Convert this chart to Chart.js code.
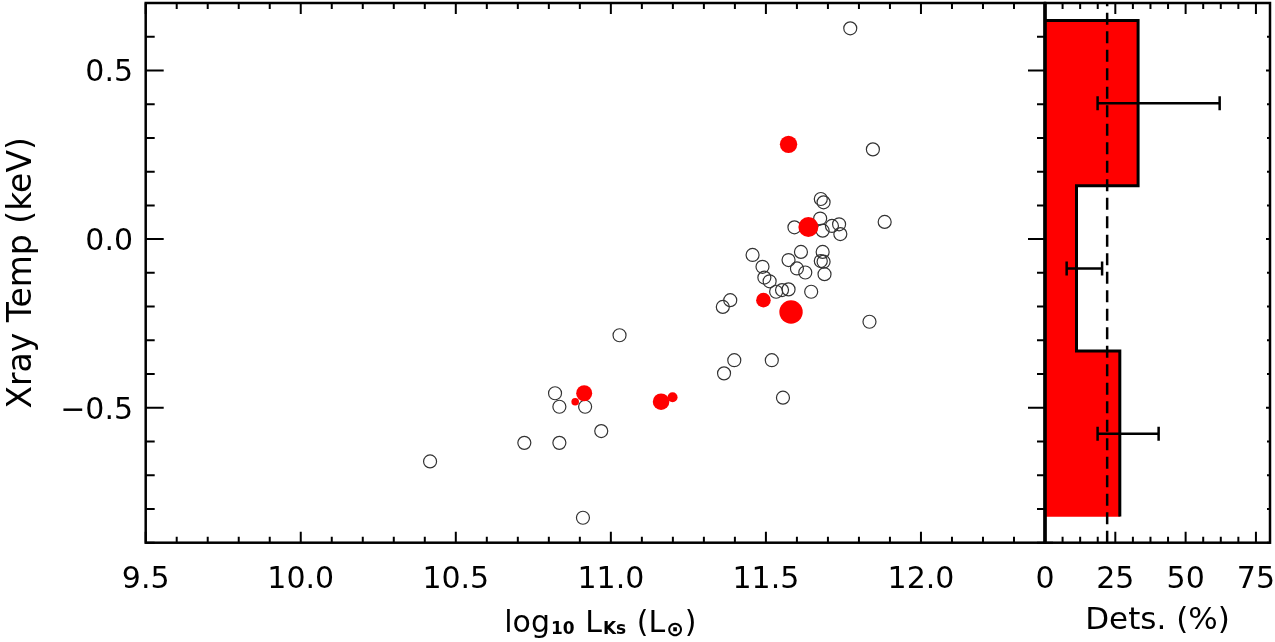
<!DOCTYPE html>
<html>
<head>
<meta charset="utf-8">
<script src="https://cdn.jsdelivr.net/npm/chart.js@4.4.1/dist/chart.umd.min.js"></script>
<style>
  html, body { margin: 0; padding: 0; background: #fff; }
  .panel { position: absolute; left: 0; top: 0; width: 1275px; height: 642px; }
</style>
</head>
<body>
<div class="panel"><canvas id="lumChart"></canvas></div>
<div class="panel"><canvas id="detChart"></canvas></div>
<script>
// =============================
// DATA
// =============================
// non-detections (open circles)
const openLogL = [11.772, 11.845, 11.883, 11.677, 11.686, 11.675, 11.592, 11.683, 11.713, 11.736,
                  11.740, 11.457, 11.613, 11.683, 11.489, 11.573, 11.677, 11.686, 11.495, 11.512,
                  11.600, 11.627, 11.689, 11.533, 11.552, 11.573, 11.646, 11.361, 11.385, 11.834,
                  11.028, 11.398, 11.519, 11.365, 11.555, 10.820, 10.834, 10.917, 10.969, 10.721,
                  10.834, 10.417, 10.910];
const openTemp = [0.625, 0.266, 0.051, 0.119, 0.109, 0.061, 0.035, 0.025, 0.039, 0.044,
                  0.015, -0.047, -0.038, -0.038, -0.082, -0.062, -0.065, -0.067, -0.114, -0.125,
                  -0.087, -0.099, -0.104, -0.156, -0.151, -0.149, -0.156, -0.201, -0.181, -0.245,
                  -0.285, -0.359, -0.359, -0.398, -0.470, -0.457, -0.497, -0.497, -0.569, -0.604,
                  -0.604, -0.659, -0.826];

// detections (filled red, symbol size scales with signal)
const redLogL = [11.573, 11.637, 11.492, 11.581, 10.914, 10.885, 11.162, 11.199];
const redTemp = [0.281, 0.036, -0.181, -0.216, -0.457, -0.482, -0.482, -0.469];
const redSize = [8.7, 10, 7.3, 11.7, 8, 3.8, 8.3, 5];

// detection fraction histogram (bins bottom -> top)
const binEdges = [-0.822, -0.332, 0.158, 0.648];
const detPct = [26.6, 11.2, 33.1];
const detErrLo = [18.7, 7.7, 18.7];
const detErrHi = [40.4, 20.3, 62.1];
const detMean = 22.1;

// axes
const xRange = [9.5, 12.4];
const yRange = [-0.9, 0.7];
const detRange = [0, 80];
const xTicks = [9.5, 10.0, 10.5, 11.0, 11.5, 12.0];
const yTicks = [-0.5, 0.0, 0.5];
const detTicks = [0, 25, 50, 75];

// =============================
// HELPERS
// =============================
Chart.defaults.font.family = '"DejaVu Sans", sans-serif';
Chart.defaults.color = '#000';

function stepVals(min, max, step) {
  const out = [];
  const n = Math.floor((max - min) / step + 1e-6);
  for (let i = 0; i <= n; i++) out.push(+(min + i * step).toFixed(6));
  return out;
}
const isMajor = (v, majors) => majors.some(m => Math.abs(m - v) < 1e-6);
const fmtY = v => (v < 0 ? '\u2212' : '') + Math.abs(v).toFixed(1);
const noPad = s => { s.paddingLeft = 0; s.paddingRight = 0; s.paddingTop = 0; s.paddingBottom = 0; };

// IDL style frame: box + inward ticks
const idlAxes = {
  id: 'idlAxes',
  afterDraw(chart, args, o) {
    const { ctx, chartArea: a, scales: { x, y } } = chart;
    ctx.save();
    ctx.strokeStyle = '#000';
    ctx.lineWidth = 2;
    ctx.beginPath();
    o.xVals.forEach(v => {
      const px = x.getPixelForValue(v);
      const len = isMajor(v, o.xMajors) ? o.xLen[0] : o.xLen[1];
      ctx.moveTo(px, a.bottom); ctx.lineTo(px, a.bottom - len);
      ctx.moveTo(px, a.top); ctx.lineTo(px, a.top + len);
    });
    o.yVals.forEach(v => {
      const py = y.getPixelForValue(v);
      const k = isMajor(v, o.yMajors) ? 0 : 1;
      if (o.leftLen[k]) { ctx.moveTo(a.left, py); ctx.lineTo(a.left + o.leftLen[k], py); }
      ctx.moveTo(a.right + o.rightOut[k], py); ctx.lineTo(a.right - o.rightLen[k], py);
    });
    ctx.stroke();
    ctx.lineWidth = 2.5;
    ctx.strokeRect(a.left, a.top, a.right - a.left, a.bottom - a.top);
    if (o.leftWidth) {
      ctx.lineWidth = o.leftWidth;
      ctx.beginPath();
      ctx.moveTo(a.left, a.top); ctx.lineTo(a.left, a.bottom);
      ctx.stroke();
    }
    ctx.restore();
  }
};

// x title with subscripts: log10 LKs (L⊙)
const lumTitle = {
  id: 'lumTitle',
  afterDraw(chart) {
    const { ctx, chartArea: a } = chart;
    const big = '30px "DejaVu Sans"';
    const sub = 'bold 17px "DejaVu Sans"';
    const sun = 'bold 21px "DejaVu Sans"';
    const parts = [['log', big, 0], ['10', sub, 2], [' L', big, 0], ['Ks', sub, 2],
                   [' (L', big, 0], ['\u2299', sun, 4], [')', big, 0]];
    ctx.save();
    ctx.fillStyle = '#000';
    ctx.textBaseline = 'alphabetic';
    let total = 0;
    parts.forEach(p => { ctx.font = p[1]; total += ctx.measureText(p[0]).width + (p[1] === big ? 0 : 2); });
    let xPos = (a.left + a.right) / 2 + 5 - total / 2;
    const base = a.bottom + 89;
    parts.forEach(p => {
      ctx.font = p[1];
      if (p[1] !== big) xPos += 1;
      ctx.fillText(p[0], xPos, base + p[2]);
      xPos += ctx.measureText(p[0]).width + (p[1] === big ? 0 : 1);
    });
    ctx.restore();
  }
};

const AXIS_H = 99.3;
const Y_AXIS_W = 145.7;
const tickFont = { size: 30 };

// =============================
// LEFT PANEL: SCATTER
// =============================
const lumChart = new Chart(document.getElementById('lumChart'), {
  type: 'scatter',
  data: {
    datasets: [
      {
        label: 'detected',
        data: redLogL.map((v, i) => ({ x: v, y: redTemp[i] })),
        pointRadius: redSize,
        pointBackgroundColor: '#ff0000',
        pointBorderWidth: 0,
        pointHoverRadius: redSize
      },
      {
        label: 'undetected',
        data: openLogL.map((v, i) => ({ x: v, y: openTemp[i] })),
        pointRadius: 6.5,
        pointBackgroundColor: 'rgba(0,0,0,0)',
        pointBorderColor: '#333',
        pointBorderWidth: 1.2
      }
    ]
  },
  options: {
    responsive: true,
    maintainAspectRatio: false,
    animation: false,
    layout: { autoPadding: false, padding: { left: 0, top: 3, right: 1275 - 1045, bottom: 0 } },
    plugins: {
      legend: { display: false },
      tooltip: { enabled: false },
      idlAxes: {
        xVals: stepVals(xRange[0], xRange[1], 0.1), xMajors: xTicks, xLen: [11, 6],
        yVals: stepVals(yRange[0], yRange[1], 0.1), yMajors: yTicks,
        leftLen: [18, 9], rightLen: [17, 8], rightOut: [17, 8]
      }
    },
    scales: {
      x: {
        type: 'linear', min: xRange[0], max: xRange[1], offset: false,
        grid: { display: false, drawTicks: false, offset: false }, border: { display: false },
        afterBuildTicks: s => { s.ticks = xTicks.map(v => ({ value: v })); },
        afterFit: s => { s.height = AXIS_H; noPad(s); },
        ticks: { font: tickFont, padding: 20, maxRotation: 0, autoSkip: false, callback: v => v.toFixed(1) }
      },
      y: {
        type: 'linear', min: yRange[0], max: yRange[1], offset: false,
        grid: { display: false, drawTicks: false, offset: false }, border: { display: false },
        afterBuildTicks: s => { s.ticks = yTicks.map(v => ({ value: v })); },
        afterFit: s => { s.width = Y_AXIS_W; noPad(s); },
        ticks: { font: tickFont, padding: 12.7, labelOffset: 3, autoSkip: false, callback: fmtY },
        title: { display: true, text: 'Xray Temp (keV)', font: { size: 33 }, padding: { top: 2.4, bottom: 0 } }
      }
    }
  },
  plugins: [idlAxes, lumTitle]
});

// =============================
// RIGHT PANEL: DETECTION FRACTION
// =============================
const binCentres = detPct.map((v, i) => (binEdges[i] + binEdges[i + 1]) / 2);

const outline = [{ x: 0, y: binEdges[binEdges.length - 1] }];
for (let i = detPct.length - 1; i >= 0; i--) {
  outline.push({ x: detPct[i], y: binEdges[i + 1] });
  outline.push({ x: detPct[i], y: binEdges[i] });
}

const errSets = detPct.map((v, i) => ({
  type: 'scatter',
  order: 1,
  data: [{ x: detErrLo[i], y: binCentres[i] }, { x: detErrHi[i], y: binCentres[i] }],
  showLine: true,
  borderColor: '#000',
  borderWidth: 2.5,
  pointStyle: 'line',
  pointRotation: 90,
  pointRadius: 7,
  pointBorderWidth: 2.5,
  pointBorderColor: '#000'
}));

const detChart = new Chart(document.getElementById('detChart'), {
  type: 'bar',
  data: {
    datasets: [
      ...errSets,
      {
        type: 'scatter',
        order: 2,
        data: [{ x: detMean, y: yRange[0] }, { x: detMean, y: yRange[1] }],
        showLine: true,
        borderColor: '#000',
        borderWidth: 2.5,
        borderDash: [12, 6.5],
        pointRadius: 0
      },
      {
        type: 'scatter',
        order: 3,
        data: outline,
        showLine: true,
        borderColor: '#000',
        borderWidth: 3,
        pointRadius: 0
      },
      {
        type: 'bar',
        order: 4,
        indexAxis: 'y',
        data: detPct.map((v, i) => ({ x: v, y: binCentres[i] })),
        backgroundColor: '#ff0000',
        borderWidth: 0,
        barPercentage: 1,
        categoryPercentage: 1
      }
    ]
  },
  options: {
    responsive: true,
    maintainAspectRatio: false,
    animation: false,
    layout: { autoPadding: false, padding: { left: 1045, top: 3, right: 5, bottom: 0 } },
    plugins: {
      legend: { display: false },
      tooltip: { enabled: false },
      idlAxes: {
        xVals: stepVals(detRange[0], detRange[1], 6.25), xMajors: detTicks, xLen: [11, 6],
        yVals: stepVals(yRange[0], yRange[1], 0.1), yMajors: yTicks,
        leftLen: [0, 0], rightLen: [4, 3], rightOut: [0, 0], leftWidth: 3.5
      }
    },
    scales: {
      x: {
        type: 'linear', min: detRange[0], max: detRange[1], offset: false,
        grid: { display: false, drawTicks: false, offset: false }, border: { display: false },
        afterBuildTicks: s => { s.ticks = detTicks.map(v => ({ value: v })); },
        afterFit: s => { s.height = AXIS_H; noPad(s); },
        ticks: { font: tickFont, padding: 20, maxRotation: 0, autoSkip: false },
        title: { display: true, text: 'Dets. (%)', font: { size: 31 }, padding: { top: 0, bottom: 2 } }
      },
      y: {
        type: 'linear', min: yRange[0], max: yRange[1], offset: false, display: false,
        grid: { offset: false },
        afterBuildTicks: s => { s.ticks = yTicks.map(v => ({ value: v })); },
        afterFit: s => { noPad(s); }
      }
    }
  },
  plugins: [idlAxes]
});
</script>
</body>
</html>
